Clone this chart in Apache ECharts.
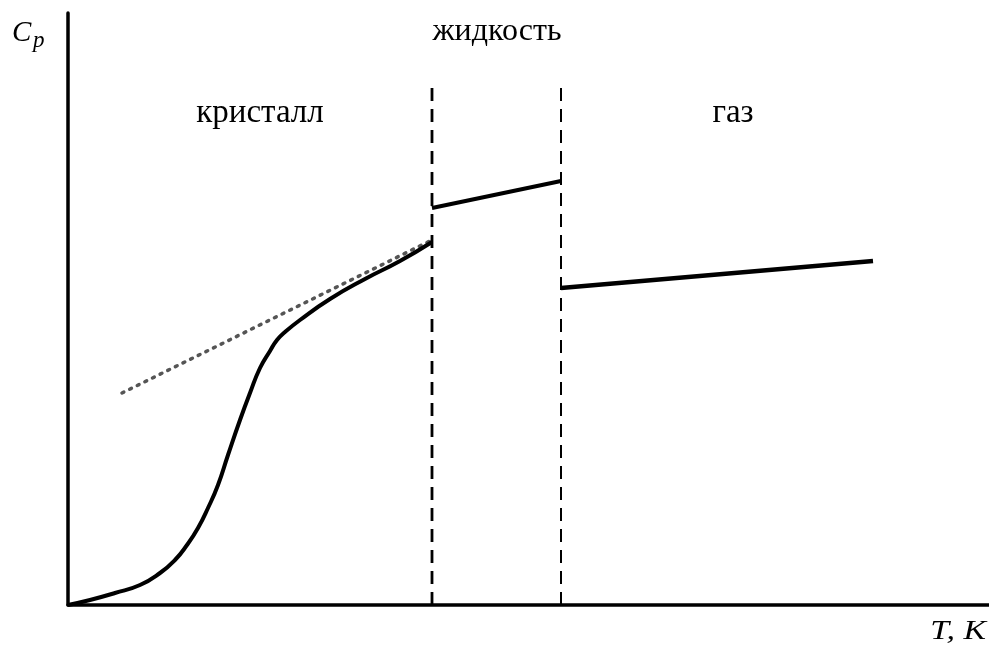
<!DOCTYPE html>
<html>
<head>
<meta charset="utf-8">
<script src="https://cdn.jsdelivr.net/npm/echarts@6/dist/echarts.min.js"></script>
<style>html,body{margin:0;padding:0;background:#fff}#c{width:989px;height:650px}</style>
</head>
<body>
<div id="c"></div>
<script>
// Crystal curve (T, Cp) in arbitrary units
const crystalT  = [0, 22, 47, 72, 92, 107, 119, 130, 140, 150, 160, 172, 182, 192, 202, 209, 217, 232, 262, 297, 332, 364];
const crystalCp = [0, 5, 12, 20, 32, 45, 60, 77, 97, 120, 150, 185, 212, 237, 254, 265, 273, 285, 306, 326, 344, 363];
// Dotted extrapolation line
const dottedT  = [54, 364];
const dottedCp = [212, 365];
// Liquid segment
const liquidT  = [364, 493];
const liquidCp = [397, 424];
// Gas segment
const gasT  = [493, 805];
const gasCp = [317, 344];
// Phase transition temperatures (vertical dashed lines)
const meltT = 364;
const boilT = 493;
const dashTop = 522;
// Labels
const phaseLabels = ['кристалл', 'жидкость', 'газ'];
const yName = 'C';
const ySub = 'p';
const xName = 'T, K';

const zip = (a, b) => a.map((v, i) => [v, b[i]]);
const chart = echarts.init(document.getElementById('c'));
const serif = '"Liberation Serif", "DejaVu Serif", serif';

chart.setOption({
  animation: false,
  backgroundColor: '#fff',
  grid: { left: 68, right: 0, top: 13, bottom: 45, containLabel: false },
  xAxis: {
    type: 'value', min: 0, max: 921,
    axisLine: { show: true, lineStyle: { color: '#000', width: 3.5 } },
    axisTick: { show: false }, axisLabel: { show: false }, splitLine: { show: false }
  },
  yAxis: {
    type: 'value', min: 0, max: 592,
    axisLine: { show: true, lineStyle: { color: '#000', width: 3.5 } },
    axisTick: { show: false }, axisLabel: { show: false }, splitLine: { show: false }
  },
  series: [
    { type: 'line', data: zip(crystalT, crystalCp), smooth: 0.5, symbol: 'none',
      lineStyle: { color: '#000', width: 4, join: 'round' }, z: 3 },
    { type: 'line', data: zip(dottedT, dottedCp), symbol: 'none',
      lineStyle: { color: '#555', width: 3.5, type: [2, 6.5], cap: 'round' }, z: 2 },
    { type: 'line', data: zip(liquidT, liquidCp), symbol: 'none',
      lineStyle: { color: '#000', width: 4 }, z: 3 },
    { type: 'line', data: zip(gasT, gasCp), symbol: 'none',
      lineStyle: { color: '#000', width: 4.5 }, z: 3 },
    { type: 'line', data: [[meltT, 0], [meltT, dashTop]], symbol: 'none',
      lineStyle: { color: '#000', width: 2.8, type: [13, 8] }, z: 1 },
    { type: 'line', data: [[boilT, 0], [boilT, dashTop]], symbol: 'none',
      lineStyle: { color: '#000', width: 2, type: [13, 8] }, z: 1 }
  ],
  graphic: [
    { type: 'text', left: 12, top: 19, style: { text: yName, font: 'italic 29px ' + serif, fill: '#000' } },
    { type: 'text', left: 33, top: 29, style: { text: ySub, font: 'italic 23px ' + serif, fill: '#000' } },
    { type: 'text', x: 497, y: 32, style: { text: phaseLabels[1], font: '32px ' + serif, fill: '#000', align: 'center', verticalAlign: 'middle' } },
    { type: 'text', x: 260, y: 113, style: { text: phaseLabels[0], font: '33px ' + serif, fill: '#000', align: 'center', verticalAlign: 'middle' } },
    { type: 'text', x: 733, y: 113, style: { text: phaseLabels[2], font: '33px ' + serif, fill: '#000', align: 'center', verticalAlign: 'middle' } },
    { type: 'text', x: 986, y: 632, scaleX: 1.25, style: { text: xName, font: 'italic 27px ' + serif, fill: '#000', align: 'right', verticalAlign: 'middle' } }
  ]
});
</script>
</body>
</html>
